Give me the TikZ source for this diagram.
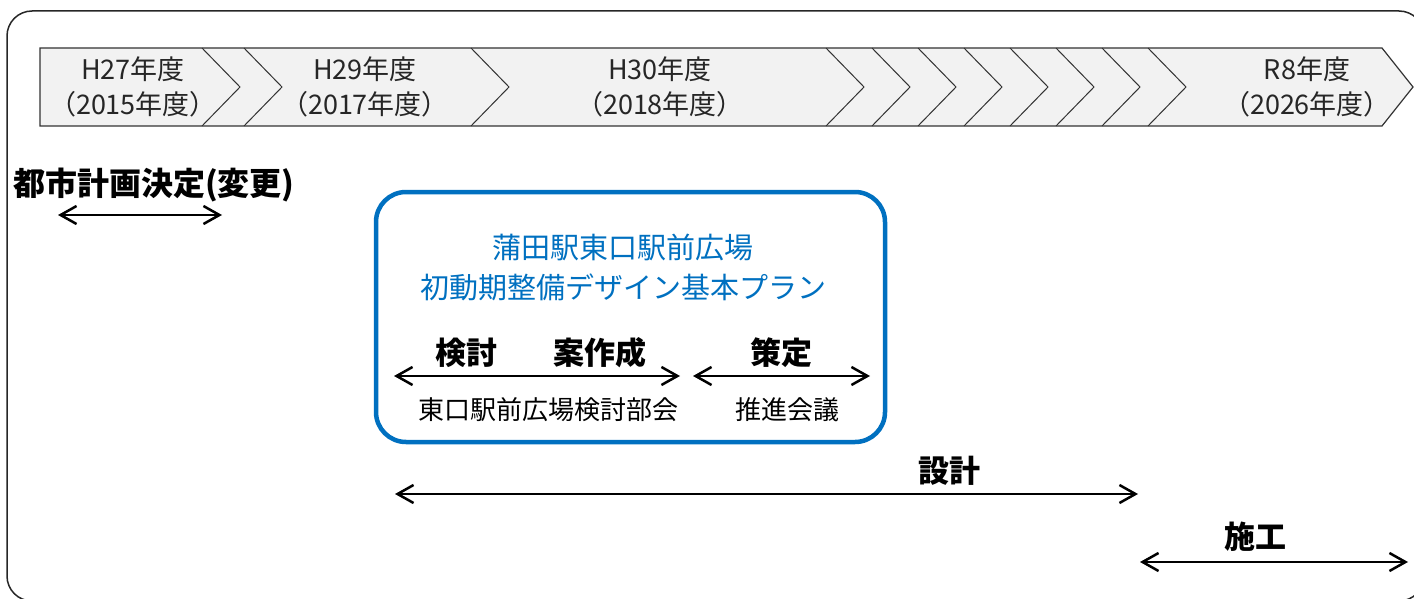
\documentclass[tikz,border=0pt]{standalone}
\usepackage{fontspec}
\setmainfont{Noto Sans CJK JP}
\usetikzlibrary{arrows.meta}
\definecolor{planblue}{HTML}{0070C0}
\definecolor{stripgray}{HTML}{F2F2F2}
\definecolor{yeartext}{HTML}{262626}
\tikzset{
  span/.style={{Straight Barb[length=16pt,width=18pt]}-{Straight Barb[length=16pt,width=18pt]}, line width=2.5pt},
  yearlabel/.style={align=center, text=yeartext, inner sep=0pt, font=\fontsize{27}{35}\selectfont},
  phase/.style={inner sep=0pt, font=\bfseries\fontsize{31}{31}\selectfont},
  body/.style={inner sep=0pt, font=\fontsize{26}{26}\selectfont},
}
\begin{document}
\begin{tikzpicture}[x=1pt,y=-1pt]
\useasboundingbox (0,0) rectangle (1414,599);
\draw[line width=1.5pt, rounded corners=25pt, draw=black!85] (7,11) rectangle (1424,601);

\draw[fill=stripgray, draw=black!80, line width=1.2pt] (40,48) -- (1382,48) -- (1413,87) -- (1382,126) -- (40,126) -- cycle;
\foreach \x in {202,244,471,826,872,918,964,1010,1056,1102,1148}
  \draw[black!80, line width=1pt] (\x,48) -- (\x+38,87) -- (\x,126);

\node[yearlabel] (h27) at (133,87) {H27年度\\（2015年度）};
\node[yearlabel] (h29) at (365,87) {H29年度\\（2017年度）};
\node[yearlabel] (h30) at (660,87) {H30年度\\（2018年度）};
\node[yearlabel] (r8) at (1307,87) {R8年度\\（2026年度）};

\node[phase, anchor=west, font=\bfseries\fontsize{32}{32}\selectfont] (toshi) at (13,185) {都市計画決定(変更)};
\coordinate (toshiL) at (58,215);
\coordinate (toshiR) at (222,215);
\draw[span] (toshiL) -- (toshiR);

\draw[planblue, line width=4.5pt, rounded corners=30pt] (376,192) rectangle (885,442);
\node[align=center, text=planblue, inner sep=0pt, font=\fontsize{29}{40}\selectfont] (plan) at (623,267) {蒲田駅東口駅前広場\\初動期整備デザイン基本プラン};

\node[phase] (kentou) at (466,353) {検討};
\node[phase] (sakusei) at (600,353) {案作成};
\node[phase] (sakutei) at (781,353) {策定};
\coordinate (kentouL) at (394,376);
\coordinate (kentouR) at (680,376);
\coordinate (sakuteiL) at (693,376);
\coordinate (sakuteiR) at (870,376);
\draw[span] (kentouL) -- (kentouR);
\draw[span] (sakuteiL) -- (sakuteiR);
\node[body] (bukai) at (548,410) {東口駅前広場検討部会};
\node[body] (kaigi) at (787,410) {推進会議};

\node[phase] (sekkei) at (949,471) {設計};
\coordinate (sekkeiL) at (395,494);
\coordinate (sekkeiR) at (1138,494);
\draw[span] (sekkeiL) -- (sekkeiR);

\node[phase] (sekou) at (1255,537) {施工};
\coordinate (sekouL) at (1140,562);
\coordinate (sekouR) at (1408,562);
\draw[span] (sekouL) -- (sekouR);
\end{tikzpicture}
\end{document}
